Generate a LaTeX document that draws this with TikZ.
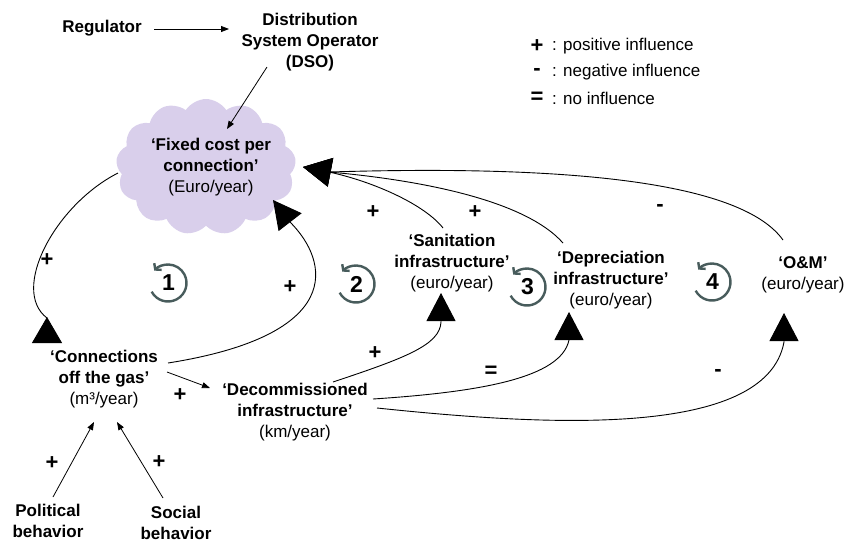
\documentclass[tikz,border=0pt]{standalone}
\usepackage{fontspec}
\setmainfont{Liberation Sans}
\usetikzlibrary{arrows.meta,shapes.symbols}
\definecolor{cloudfill}{RGB}{217,207,235}
\definecolor{loopcol}{RGB}{72,92,92}
\begin{document}
\begin{tikzpicture}[x=1pt,y=1pt,
  txt/.style={font=\fontsize{17}{21}\selectfont, align=center, inner sep=0pt},
  sign/.style={font=\fontsize{22}{22}\selectfont\bfseries, inner sep=0pt},
  thinarrow/.style={line width=0.8pt, -{Triangle[length=8pt,width=6pt]}},
  link/.style={line width=0.9pt},
  bigtip/.style={-{Triangle[length=28pt,width=29pt]}},
  loopc/.style={draw=loopcol, line width=2.4pt},
  loopicon/.pic={
    \draw[loopc,-{Straight Barb[length=4pt,width=10pt]}] (208:18.5) arc[start angle=208,end angle=498,radius=18.5];
    \node[font=\fontsize{23}{23}\selectfont\bfseries, inner sep=0pt] at (0.5,0) {#1};
  }
]
\useasboundingbox (0,0) rectangle (846,-542);

% ---------- nodes ----------
\node[cloud, cloud puffs=13, cloud puff arc=115, aspect=1.33, fill=cloudfill,
      minimum width=180pt, minimum height=136pt, inner sep=0pt] (cloud) at (206,-167) {};
\node[txt] (fixed) at (211,-167) {\textbf{‘Fixed cost per}\\\textbf{connection’}\\(Euro/year)};
\node[txt] (reg) at (102,-28) {\textbf{Regulator}};
\node[txt] (dso) at (310,-42) {\textbf{Distribution}\\\textbf{System Operator}\\\textbf{(DSO)}};
\node[txt] (san) at (452,-263) {\textbf{‘Sanitation}\\\textbf{infrastructure’}\\(euro/year)};
\node[txt] (dep) at (611,-280) {\textbf{‘Depreciation}\\\textbf{infrastructure’}\\(euro/year)};
\node[txt] (om) at (803,-275) {\textbf{‘O\&M’}\\(euro/year)};
\node[txt] (conn) at (104,-379) {\textbf{‘Connections}\\\textbf{off the gas’}\\(m³/year)};
\node[txt] (dec) at (295,-412) {\textbf{‘Decommissioned}\\\textbf{infrastructure’}\\(km/year)};
\node[txt] (pol) at (48,-521) {\textbf{Political}\\\textbf{behavior}};
\node[txt] (soc) at (176,-523) {\textbf{Social}\\\textbf{behavior}};

% legend
\node[sign] (lp) at (537,-46) {+};
\node[sign] (lm) at (537,-72) {-};
\node[sign] (le) at (537,-98) {=};
\node[txt, anchor=west] (lpt) at (552,-46) {: positive influence};
\node[txt, anchor=west] (lmt) at (552,-72) {: negative influence};
\node[txt, anchor=west] (let) at (552,-98) {: no influence};

% loop icons
\pic at (168,-283) {loopicon=1};
\pic at (356,-284) {loopicon=2};
\pic at (527,-287) {loopicon=3};
\pic at (712,-282) {loopicon=4};

% ---------- connector end points ----------
\coordinate (regA) at (154,-29);
\coordinate (dsoA) at (229,-29);
\coordinate (dsoB) at (267,-67);
\coordinate (cloudA) at (227,-129);
\coordinate (cloudL) at (118,-173);
\coordinate (conTop) at (47,-318);
\coordinate (conBase) at (47,-343);
\coordinate (conR) at (168,-363);
\coordinate (cloudBRbase) at (290,-222);
\coordinate (cloudBR) at (273,-200);
\coordinate (fixBase) at (329,-172);
\coordinate (fixTip) at (303,-167);
\coordinate (sanT) at (443,-228);
\coordinate (depT) at (563,-243);
\coordinate (omT) at (783,-240);
\coordinate (conD) at (167,-372);
\coordinate (decA) at (210,-388);
\coordinate (decS) at (333,-382);
\coordinate (sanBase) at (441,-322);
\coordinate (sanTip) at (441,-293);
\coordinate (decD) at (373,-399);
\coordinate (depBase) at (569,-340);
\coordinate (depTip) at (569,-312);
\coordinate (decO) at (377,-408);
\coordinate (omBase) at (784,-342);
\coordinate (omTip) at (784,-313);
\coordinate (polT) at (53,-497);
\coordinate (conP) at (94,-422);
\coordinate (socT) at (163,-498);
\coordinate (conS) at (117,-422);

% ---------- connectors ----------
\draw[thinarrow] (regA) -- (dsoA);
\draw[thinarrow] (dsoB) -- (cloudA);
\draw[link, -{Triangle[reversed,length=26pt,width=30pt]}] (cloudL) .. controls (55,-205) and (10,-290) .. (conTop) -- (conBase);
\draw[link, bigtip] (conR) .. controls (345,-335) and (330,-262) .. (cloudBRbase) -- (cloudBR);
\draw[link, bigtip] (sanT) .. controls (425,-205) and (375,-182) .. (fixBase) -- (fixTip);
\draw[link, bigtip] (depT) .. controls (525,-200) and (420,-180) .. (fixBase) -- (fixTip);
\draw[link, bigtip] (omT) .. controls (740,-180) and (560,-165) .. (fixBase) -- (fixTip);
\draw[thinarrow] (conD) -- (decA);
\draw[link, bigtip] (decS) .. controls (405,-358) and (440,-345) .. (sanBase) -- (sanTip);
\draw[link, bigtip] (decD) .. controls (480,-392) and (561,-378) .. (depBase) -- (depTip);
\draw[link, bigtip] (decO) .. controls (540,-425) and (766,-440) .. (omBase) -- (omTip);
\draw[thinarrow] (polT) -- (conP);
\draw[thinarrow] (socT) -- (conS);

% ---------- polarity signs ----------
\node[sign] (s1) at (52,-463) {+};
\node[sign] (s2) at (159,-462) {+};
\node[sign] (s3) at (47,-260) {+};
\node[sign] (s4) at (290,-287) {+};
\node[sign] (s5) at (180,-395) {+};
\node[sign] (s6) at (375,-353) {+};
\node[sign] (s7) at (491,-372) {=};
\node[sign] (s8) at (718,-373) {-};
\node[sign] (s9) at (373,-212) {+};
\node[sign] (s10) at (475,-212) {+};
\node[sign] (s11) at (660,-208) {-};
\end{tikzpicture}
\end{document}
